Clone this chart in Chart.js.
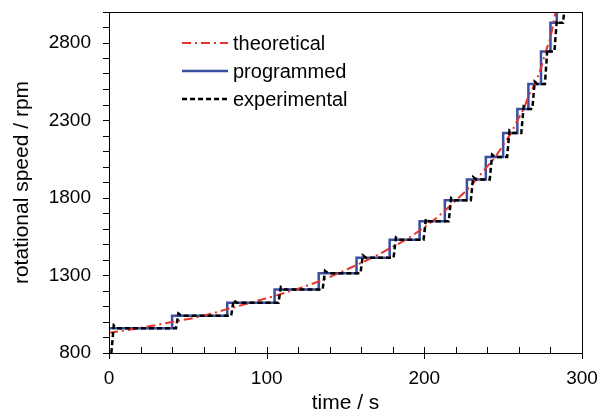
<!DOCTYPE html>
<html>
<head>
<meta charset="utf-8">
<script src="https://cdn.jsdelivr.net/npm/chart.js@4.4.1/dist/chart.umd.min.js"></script>
<style>
    html, body { margin: 0; padding: 0; background: #fff; }
</style>
</head>
<body>
<canvas id="speedChart" width="601" height="418"></canvas>

<script>
    // theoretical speed ramp (s, rpm)
    const theoTime  = [0, 20, 40, 60, 75, 90, 105, 120, 133, 145, 157, 168, 178, 188, 197, 205, 213, 220, 227, 233, 239, 245, 250, 255, 259, 263, 266, 270, 274, 277, 280, 283, 286];
    const theoSpeed = [930, 962, 1000, 1040, 1083, 1125, 1168, 1215, 1262, 1312, 1368, 1420, 1475, 1530, 1590, 1650, 1718, 1785, 1852, 1920, 1993, 2065, 2143, 2220, 2300, 2375, 2455, 2535, 2640, 2745, 2840, 2985, 3120];

    // programmed steps: time of each step and the level held after it
    const progTime  = [0, 40, 75, 105, 133, 157, 178, 197, 213, 227, 239, 250, 259, 266, 274, 280, 284];
    const progSpeed = [960, 1040, 1125, 1210, 1315, 1415, 1530, 1650, 1785, 1920, 2065, 2220, 2375, 2535, 2745, 2930, 3150];

    // measured response (lags the program by a few seconds, small overshoot)
    const expTime  = [1.5, 3, 5,
                      42.5, 44, 46,
                      77.5, 79, 81,
                      107.5, 109, 111,
                      135.5, 137, 139,
                      159.5, 161, 163,
                      180.5, 182, 184,
                      199.5, 201, 203,
                      215.5, 217, 219,
                      229.5, 231, 233,
                      241.5, 243, 245,
                      252.5, 254, 256,
                      261.5, 263, 265,
                      268.5, 270, 271.5,
                      276.5, 278, 279.5,
                      282.5, 284, 285.5,
                      288, 290];
    const expSpeed = [800, 978, 960,
                      960, 1055, 1040,
                      1040, 1140, 1125,
                      1125, 1225, 1210,
                      1210, 1330, 1315,
                      1315, 1430, 1415,
                      1415, 1545, 1530,
                      1530, 1665, 1650,
                      1650, 1800, 1785,
                      1785, 1935, 1920,
                      1920, 2080, 2065,
                      2065, 2235, 2220,
                      2220, 2390, 2375,
                      2375, 2550, 2535,
                      2535, 2760, 2745,
                      2745, 2945, 2930,
                      2930, 3150];

    const xTicksMajor = [0, 100, 200, 300];
    const yTicksMajor = [800, 1300, 1800, 2300, 2800];

    const toPoints = (xs, ys) => xs.map((t, i) => ({ x: t, y: ys[i] }));

    // box around the plot + inward x ticks
    const frameAndTicks = {
        id: 'frameAndTicks',
        afterDatasetsDraw(chart) {
            const { ctx, chartArea: a, scales: { x } } = chart;
            ctx.save();
            ctx.strokeStyle = '#000';
            ctx.lineWidth = 1;
            ctx.strokeRect(a.left + 0.5, a.top + 0.5, a.right - a.left, a.bottom - a.top);
            x.ticks.forEach(t => {
                const px = Math.round(x.getPixelForValue(t.value)) + 0.5;
                const major = xTicksMajor.includes(t.value);
                ctx.beginPath();
                ctx.moveTo(px, a.bottom - 6);
                ctx.lineTo(px, a.bottom + (major ? 6 : 0));
                ctx.stroke();
            });
            ctx.restore();
        }
    };

    // legend sits inside the plot, upper left
    const insideLegend = {
        id: 'insideLegend',
        afterDraw(chart) {
            const ctx = chart.ctx;
            ctx.save();
            ctx.font = '20px "Liberation Sans", Arial, sans-serif';
            ctx.textBaseline = 'middle';
            chart.data.datasets.forEach((ds, i) => {
                const yy = 43 + i * 28;
                ctx.strokeStyle = ds.borderColor;
                ctx.lineWidth = ds.borderWidth;
                ctx.setLineDash(ds.borderDash || []);
                ctx.beginPath();
                ctx.moveTo(182, yy);
                ctx.lineTo(228, yy);
                ctx.stroke();
                ctx.setLineDash([]);
                ctx.fillStyle = '#000';
                ctx.fillText(ds.label, 233, yy + 1);
            });
            ctx.restore();
        }
    };

    Chart.defaults.font.family = '"Liberation Sans", Arial, sans-serif';
    Chart.defaults.font.size = 19;
    Chart.defaults.color = '#000';

    new Chart(document.getElementById('speedChart').getContext('2d'), {
        type: 'line',
        data: {
            datasets: [
                {
                    label: 'theoretical',
                    data: toPoints(theoTime, theoSpeed),
                    borderColor: '#e8322b',
                    borderWidth: 2,
                    borderDash: [9, 4, 2, 4],
                    pointRadius: 0,
                    cubicInterpolationMode: 'monotone',
                    order: 1
                },
                {
                    label: 'programmed',
                    data: toPoints(progTime, progSpeed),
                    borderColor: '#3b4fa0',
                    borderWidth: 2.5,
                    stepped: 'before',
                    pointRadius: 0,
                    order: 2
                },
                {
                    label: 'experimental',
                    data: toPoints(expTime, expSpeed),
                    borderColor: '#000',
                    borderWidth: 2.5,
                    borderDash: [5, 3],
                    pointRadius: 0,
                    order: 0
                }
            ]
        },
        options: {
            responsive: false,
            animation: false,
            layout: { padding: { top: 12, right: 19, left: 0, bottom: 0 } },
            plugins: {
                legend: { display: false },
                tooltip: { enabled: false }
            },
            scales: {
                x: {
                    type: 'linear',
                    min: 0,
                    max: 300,
                    afterFit: s => { s.height = 65; s.paddingLeft = 0; s.paddingRight = 0; },
                    grid: { display: false, drawTicks: false },
                    border: { display: true, color: '#000' },
                    ticks: {
                        stepSize: 20,
                        autoSkip: false,
                        maxRotation: 0,
                        padding: 14,
                        callback: v => xTicksMajor.includes(v) ? v : ''
                    },
                    title: { display: true, text: 'time / s', font: { size: 21 }, padding: { top: 0, bottom: 2 } }
                },
                y: {
                    min: 800,
                    max: 3000,
                    afterFit: s => { s.width = 109; s.paddingTop = 0; s.paddingBottom = 0; },
                    grid: { drawOnChartArea: false, tickLength: 6, color: '#000' },
                    border: { display: true, color: '#000' },
                    ticks: {
                        stepSize: 100,
                        autoSkip: false,
                        padding: 12,
                        callback: v => yTicksMajor.includes(v) ? v : ''
                    },
                    title: { display: true, text: 'rotational speed / rpm', font: { size: 21 }, padding: { top: 10, bottom: 0 } }
                }
            }
        },
        plugins: [frameAndTicks, insideLegend]
    });
</script>
</body>
</html>
